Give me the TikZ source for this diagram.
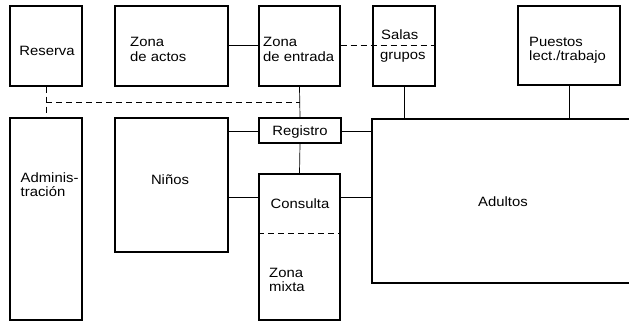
\documentclass[tikz,border=0pt]{standalone}
\usepackage{fontspec}
\setmainfont{Liberation Sans}[FakeStretch=1.1]
\begin{document}
\begin{tikzpicture}[x=1pt,y=-1pt,
  box/.style={draw,line width=1.2pt,inner sep=0pt,rectangle},
  conn/.style={line width=0.7pt},
  dconn/.style={line width=0.8pt,dash pattern=on 6pt off 4pt},
  lbl/.style={inner sep=0pt,font=\fontsize{13.5}{14.5}\selectfont,align=left}]
\useasboundingbox (0,0) rectangle (629,322);
\newcommand{\bx}[5]{\node[box,minimum width=#4-#2,minimum height=#5-#3] (#1) at ({(#2+#4)/2},{(#3+#5)/2}) {};}
\bx{res}{10}{6}{82}{86}
\bx{act}{115}{6}{228}{86}
\bx{ent}{259}{6}{340}{86}
\bx{sal}{373}{6}{435}{86}
\bx{pue}{518}{6}{620}{85}
\bx{adm}{10}{118}{82}{320}
\bx{nin}{115}{118}{228}{252}
\bx{reg}{259}{118}{341}{143}
\bx{con}{259}{174}{340}{320}
\bx{adu}{372}{119}{660}{283}
% labels (base anchor of a two-line label is the last line)
\node[lbl,anchor=base] (tres) at (47,55) {Reserva};
\node[lbl,anchor=base west] (tact) at (130,61) {Zona\\de actos};
\node[lbl,anchor=base west] (tent) at (263,61) {Zona\\de entrada};
\node[lbl,anchor=base west] (tsal1) at (381,39.5) {Salas};
\node[lbl,anchor=base west] (tsal2) at (380,59) {grupos};
\node[lbl,anchor=base west] (tpue) at (529,60.5) {Puestos\\lect./trabajo};
\node[lbl,anchor=base west] (tadm) at (20.5,196.5) {Adminis-\\tración};
\node[lbl,anchor=base] (tnin) at (170,184) {Niños};
\node[lbl,anchor=base] (treg) at (300,135) {Registro};
\node[lbl,anchor=base] (tcon) at (300,208) {Consulta};
\node[lbl,anchor=base west] (tmix) at (269,291.5) {Zona\\mixta};
\node[lbl,anchor=base] (tadu) at (503,206) {Adultos};
% connectors
\draw[conn] (act.east |- 0,45) -- (ent.west |- 0,45);
\draw[dconn] (ent.east |- 0,45) -- (sal.east |- 0,45);
\draw[conn] (ent.south) -- (reg.north);
\coordinate (dl) at (res.south |- 0,102);
\coordinate (dr) at (ent.south |- 0,102);
\draw[dconn] (dl) -- (dr);
\draw[dconn] (res.south) -- (adm.north);
\draw[conn] (nin.east |- 0,131) -- (reg.west |- 0,131);
\draw[conn] (nin.east |- 0,197) -- (con.west |- 0,197);
\draw[conn] (reg.south) -- (con.north);
\draw[conn] (reg.east |- 0,131) -- (adu.west |- 0,131);
\draw[conn] (con.east |- 0,197) -- (adu.west |- 0,197);
\draw[conn] (sal.south) -- (sal.south |- adu.north);
\draw[conn] (pue.south) -- (pue.south |- adu.north);
\draw[dconn] (con.west |- 0,233) -- (con.east |- 0,233);
\end{tikzpicture}
\end{document}
